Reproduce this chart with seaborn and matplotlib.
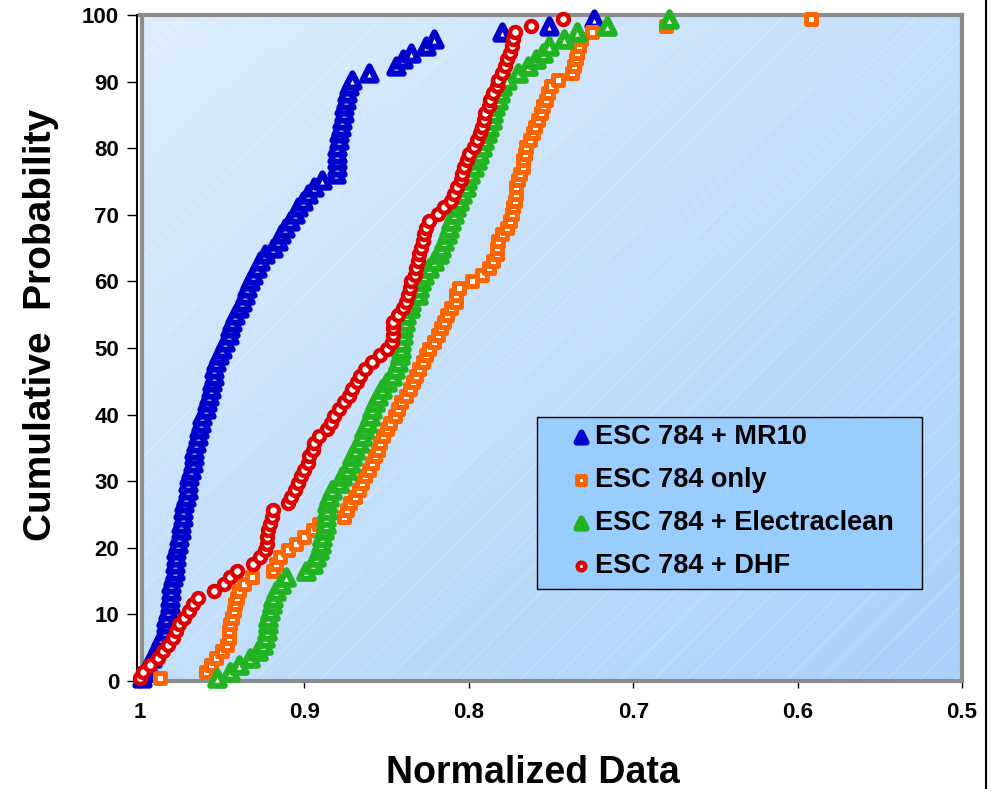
import numpy as np
import pandas as pd
import seaborn as sns
import matplotlib.pyplot as plt
from matplotlib.patches import Rectangle
from matplotlib.lines import Line2D

sns.set_style('ticks')
plt.rcParams['font.family'] = ['Liberation Sans', 'DejaVu Sans']
plt.rcParams['font.weight'] = 'bold'
plt.rcParams['text.color'] = 'black'
plt.rcParams['axes.labelcolor'] = 'black'
plt.rcParams['xtick.color'] = 'black'
plt.rcParams['ytick.color'] = 'black'
plt.rcParams['hatch.linewidth'] = 0.6

labels = ['ESC 784 + MR10', 'ESC 784 only', 'ESC 784 + Electraclean', 'ESC 784 + DHF']
colors = ['#0000cc', '#ff6600', '#22b322', '#dd0000']
markers = ['^', 's', '^', 'o']
sizes = [105, 62, 110, 62]
edge_w = [4.4, 3.6, 4.4, 3.2]

# normalized values, sorted from largest to smallest (cumulative order)
mr10 = [0.999, 0.997, 0.995, 0.993, 0.991, 0.989, 0.987, 0.985, 0.984, 0.984,
        0.983, 0.982, 0.982, 0.981, 0.981, 0.980, 0.979, 0.979, 0.978, 0.978,
        0.977, 0.976, 0.975, 0.975, 0.974, 0.974, 0.973, 0.972, 0.971, 0.971,
        0.970, 0.969, 0.968, 0.967, 0.967, 0.966, 0.965, 0.964, 0.963, 0.962,
        0.960, 0.959, 0.958, 0.957, 0.956, 0.955, 0.955, 0.954, 0.952, 0.950,
        0.948, 0.946, 0.945, 0.944, 0.942, 0.940, 0.938, 0.936, 0.935, 0.933,
        0.931, 0.929, 0.927, 0.924, 0.919, 0.916, 0.914, 0.912, 0.909, 0.906,
        0.904, 0.901, 0.898, 0.894, 0.889, 0.881, 0.880, 0.880, 0.880, 0.880,
        0.879, 0.879, 0.878, 0.877, 0.876, 0.876, 0.875, 0.874, 0.873, 0.871,
        0.861, 0.844, 0.840, 0.835, 0.826, 0.821, 0.780, 0.751, 0.724]

only = [0.988, 0.960, 0.957, 0.954, 0.950, 0.947, 0.946, 0.946, 0.945, 0.944,
        0.943, 0.942, 0.941, 0.940, 0.937, 0.932, 0.919, 0.917, 0.915, 0.910,
        0.905, 0.900, 0.895, 0.891, 0.876, 0.874, 0.872, 0.869, 0.867, 0.865,
        0.863, 0.861, 0.859, 0.857, 0.855, 0.854, 0.852, 0.850, 0.848, 0.845,
        0.843, 0.841, 0.838, 0.836, 0.834, 0.832, 0.830, 0.828, 0.826, 0.824,
        0.821, 0.819, 0.817, 0.815, 0.813, 0.811, 0.808, 0.808, 0.806, 0.798,
        0.792, 0.788, 0.785, 0.783, 0.783, 0.782, 0.780, 0.777, 0.775, 0.774,
        0.773, 0.772, 0.771, 0.771, 0.770, 0.769, 0.767, 0.767, 0.766, 0.765,
        0.763, 0.761, 0.760, 0.758, 0.756, 0.755, 0.753, 0.752, 0.750, 0.746,
        0.737, 0.736, 0.735, 0.734, 0.733, 0.732, 0.725, 0.680, 0.592]

electra = [0.953, 0.945, 0.940, 0.933, 0.928, 0.925, 0.924, 0.923, 0.922, 0.922,
           0.921, 0.920, 0.919, 0.917, 0.914, 0.911, 0.899, 0.895, 0.893, 0.891,
           0.890, 0.889, 0.888, 0.887, 0.887, 0.886, 0.886, 0.885, 0.883, 0.879,
           0.877, 0.874, 0.872, 0.871, 0.869, 0.867, 0.865, 0.864, 0.862, 0.860,
           0.859, 0.857, 0.855, 0.853, 0.850, 0.847, 0.845, 0.843, 0.842, 0.841,
           0.841, 0.840, 0.840, 0.839, 0.838, 0.836, 0.835, 0.831, 0.830, 0.829,
           0.827, 0.824, 0.821, 0.818, 0.817, 0.815, 0.813, 0.812, 0.811, 0.809,
           0.808, 0.806, 0.804, 0.802, 0.801, 0.799, 0.797, 0.795, 0.794, 0.792,
           0.791, 0.789, 0.788, 0.786, 0.785, 0.784, 0.782, 0.781, 0.780, 0.777,
           0.770, 0.764, 0.759, 0.755, 0.751, 0.742, 0.734, 0.716, 0.678]

dhf = [1.000, 0.998, 0.994, 0.989, 0.986, 0.983, 0.980, 0.978, 0.976, 0.973,
       0.970, 0.968, 0.965, 0.955, 0.949, 0.945, 0.941, 0.931, 0.927, 0.924,
       0.923, 0.923, 0.922, 0.921, 0.920, 0.919, 0.910, 0.908, 0.906, 0.904,
       0.902, 0.900, 0.898, 0.897, 0.895, 0.894, 0.891, 0.886, 0.884, 0.882,
       0.879, 0.876, 0.873, 0.871, 0.868, 0.866, 0.863, 0.859, 0.854, 0.850,
       0.847, 0.846, 0.846, 0.846, 0.843, 0.840, 0.838, 0.837, 0.836, 0.835,
       0.833, 0.832, 0.831, 0.830, 0.829, 0.828, 0.827, 0.826, 0.824, 0.819,
       0.815, 0.811, 0.809, 0.807, 0.805, 0.804, 0.803, 0.801, 0.800, 0.797,
       0.795, 0.793, 0.792, 0.791, 0.790, 0.788, 0.787, 0.785, 0.783, 0.782,
       0.780, 0.778, 0.777, 0.775, 0.774, 0.773, 0.772, 0.762, 0.743]

frames = []
for lab, vals in zip(labels, [mr10, only, electra, dhf]):
    n = len(vals)
    frames.append(pd.DataFrame({'Series': lab,
                                'Normalized': vals,
                                'Cumulative': (np.arange(n) + 0.4) / n * 100}))
df = pd.concat(frames, ignore_index=True)

fig = plt.figure(figsize=(9.92, 7.89), dpi=100)
ax = fig.add_axes([140 / 992, 108 / 789, 822 / 992, 666 / 789])

# gradient plot area like the Excel fill
u = np.linspace(0, 1, 300)[None, :]
v = np.linspace(0, 1, 300)[:, None]
t = ((u + v) / 2)[..., None]
c0 = np.array([0.87, 0.93, 0.99])
c1 = np.array([0.66, 0.82, 0.98])
img = c0 * (1 - t) + c1 * t
ax.imshow(img, extent=[0, 1, 0, 1], transform=ax.transAxes, aspect='auto', zorder=0)
ax.add_patch(Rectangle((0, 0), 1, 1, transform=ax.transAxes, fill=False,
                       hatch='/', edgecolor=(1, 1, 1, 0.3), lw=0, zorder=0.5))

for lab, c, m, s, lw in zip(labels, colors, markers, sizes, edge_w):
    sub = df[df['Series'] == lab]
    sns.scatterplot(data=sub, x='Normalized', y='Cumulative', marker=m, s=s,
                    color=c, facecolor='white', edgecolor=c, linewidth=lw,
                    clip_on=False, zorder=5, label=lab, ax=ax)

ax.set_xlim(1, 0.5)
ax.set_ylim(0, 100)
ax.set_xticks([1, 0.9, 0.8, 0.7, 0.6, 0.5])
ax.set_xticklabels(['1', '0.9', '0.8', '0.7', '0.6', '0.5'])
ax.set_yticks(range(0, 101, 10))
ax.tick_params(axis='both', labelsize=16, colors='black', width=1)
ax.tick_params(axis='y', length=7, pad=6)
ax.tick_params(axis='x', length=5, pad=10)
for lbl in ax.get_xticklabels() + ax.get_yticklabels():
    lbl.set_fontweight('bold')

for side in ['top', 'right', 'bottom']:
    ax.spines[side].set_color('#8c8c8c')
    ax.spines[side].set_linewidth(3)
ax.spines['left'].set_color('black')
ax.spines['left'].set_linewidth(1.5)
ax.spines['left'].set_position(('outward', 2))
ax.plot([0.002, 0.002], [0, 1], transform=ax.transAxes, color='#8c8c8c', lw=3,
        zorder=3, clip_on=False)

ax.set_xlabel('')
ax.set_ylabel('')
ax.text(0.478, -0.138, 'Normalized Data', transform=ax.transAxes, ha='center',
        va='center', fontsize=27, fontweight='bold')
ax.text(-0.12, 0.535, 'Cumulative  Probability', transform=ax.transAxes,
        ha='center', va='center', rotation=90, fontsize=28, fontweight='bold')

# legend box
ax.add_patch(Rectangle((0.483, 0.138), 0.468, 0.258, transform=ax.transAxes,
                       facecolor='#99ccff', edgecolor='black', lw=1, zorder=6))
leg = ax.legend(loc='upper left', bbox_to_anchor=(0.527, 0.386), frameon=False,
                borderpad=0, borderaxespad=0, handlelength=0.6,
                handletextpad=0.2, labelspacing=0.63, markerscale=0.7,
                prop={'size': 19.5, 'weight': 'bold'})
leg.set_zorder(7)

fig.add_artist(Line2D([986 / 992, 986 / 992], [0, 1], color='black', lw=1.5))

fig.savefig('out.png', dpi=100)
